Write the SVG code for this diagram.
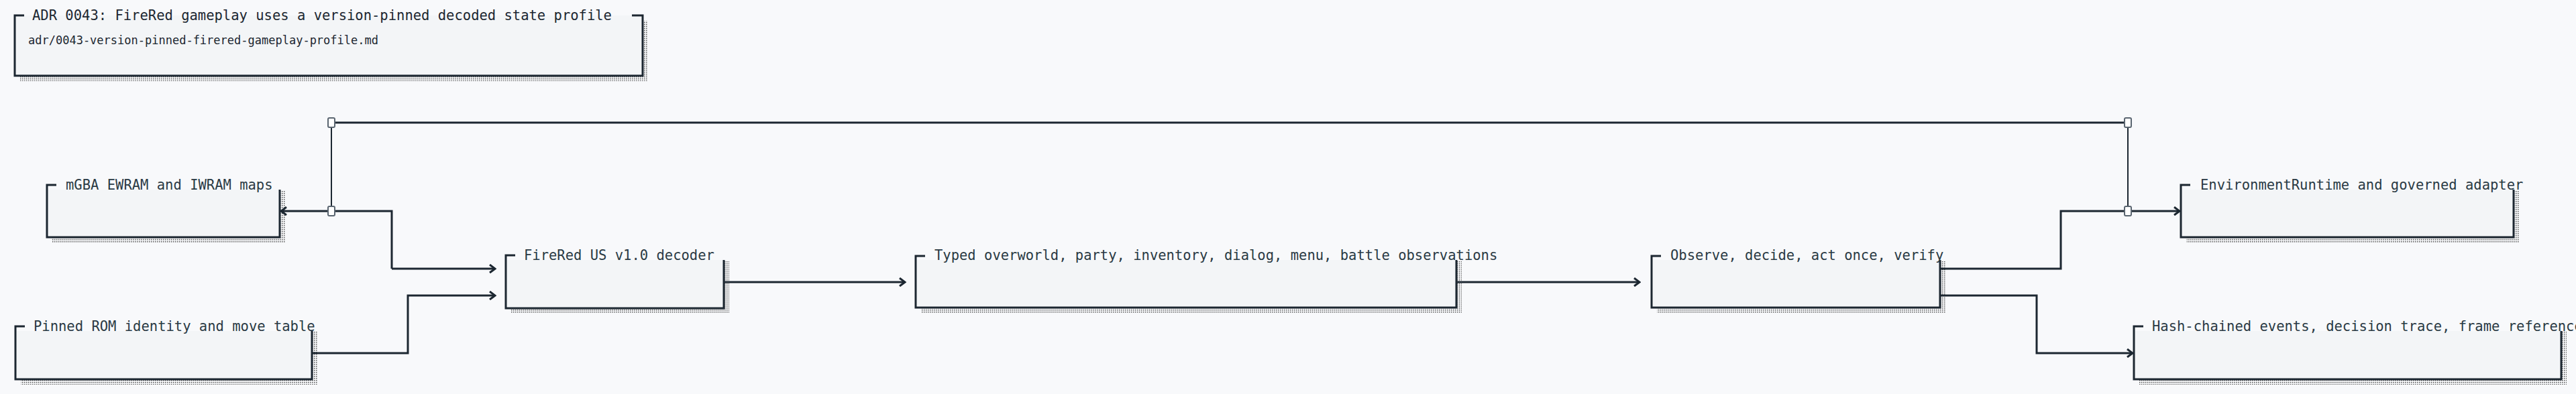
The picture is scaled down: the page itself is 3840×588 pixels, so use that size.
<svg xmlns="http://www.w3.org/2000/svg" width="3840" height="588" viewBox="0 0 3840 588">
<style>
.bg{fill:#f8f9fb}
.box{fill:#f3f5f7}
.edge{fill:none;stroke:#1c2731;stroke-width:3}
.shadow{fill:url(#dots)}
.lbl{font-family:"DejaVu Sans Mono",monospace;font-size:20.5px;fill:#2a3a44}
.sub{font-family:"DejaVu Sans Mono",monospace;font-size:17px;fill:#1c2731}
.ttl{font-family:"DejaVu Sans Mono",monospace;font-size:20.5px;fill:#1c2731}
.wire{fill:none;stroke:#1c2731;stroke-width:3}
.thin{fill:none;stroke:#1c2731;stroke-width:2}
.jn{fill:#ffffff;stroke:#5a6570;stroke-width:2}
</style>
<defs>
<pattern id="dots" width="3" height="3" patternUnits="userSpaceOnUse"><rect width="3" height="3" fill="#f8f9fb"/><rect width="1.5" height="1.5" fill="#555"/></pattern>
<marker id="arr" markerWidth="12" markerHeight="14" refX="10" refY="7" orient="auto" markerUnits="userSpaceOnUse"><path d="M2,1 L10,7 L2,13" fill="none" stroke="#1c2731" stroke-width="3"/></marker>
</defs>
<rect class="bg" width="3840" height="588"/>

<g id="adr">
<rect class="shadow" x="30" y="31" width="936" height="90"/>
<rect class="box" x="22" y="23" width="936" height="90"/>
<path class="edge" d="M36,23 H22 V113 H958 V23 H942"/>
<text class="ttl" x="48" y="30">ADR 0043: FireRed gameplay uses a version-pinned decoded state profile</text>
<text class="sub" x="42" y="66">adr/0043-version-pinned-firered-gameplay-profile.md</text>
</g>

<g id="mgba">
<rect class="shadow" x="78" y="284" width="347" height="78"/>
<rect class="box" x="70" y="283" width="347" height="71"/>
<path class="edge" d="M84,276 H70 V354 H417 V283"/>
<text class="lbl" x="98" y="283">mGBA EWRAM and IWRAM maps</text>
</g>

<g id="rom">
<rect class="shadow" x="31" y="495" width="442" height="79"/>
<rect class="box" x="23" y="494" width="442" height="72"/>
<path class="edge" d="M37,487 H23 V566 H465 V494"/>
<text class="lbl" x="50" y="494">Pinned ROM identity and move table</text>
</g>

<g id="decoder">
<rect class="shadow" x="762" y="389" width="325" height="79"/>
<rect class="box" x="754" y="388" width="325" height="72"/>
<path class="edge" d="M768,381 H754 V460 H1079 V388"/>
<text class="lbl" x="781" y="388">FireRed US v1.0 decoder</text>
</g>

<g id="typed">
<rect class="shadow" x="1373" y="390" width="806" height="77"/>
<rect class="box" x="1365" y="388" width="806" height="71"/>
<path class="edge" d="M1379,382 H1365 V459 H2171 V388"/>
<text class="lbl" x="1393" y="388">Typed overworld, party, inventory, dialog, menu, battle observations</text>
</g>

<g id="loop">
<rect class="shadow" x="2470" y="390" width="430" height="77"/>
<rect class="box" x="2462" y="388" width="430" height="71"/>
<path class="edge" d="M2476,382 H2462 V459 H2892 V388"/>
<text class="lbl" x="2490" y="388">Observe, decide, act once, verify</text>
</g>

<g id="env">
<rect class="shadow" x="3259" y="284" width="496" height="78"/>
<rect class="box" x="3251" y="283" width="496" height="71"/>
<path class="edge" d="M3265,276 H3251 V354 H3747 V283"/>
<text class="lbl" x="3280" y="283">EnvironmentRuntime and governed adapter</text>
</g>

<g id="trace">
<rect class="shadow" x="3189" y="495" width="637" height="79"/>
<rect class="box" x="3181" y="494" width="637" height="72"/>
<path class="edge" d="M3195,487 H3181 V566 H3818 V494"/>
<text class="lbl" x="3208" y="494">Hash-chained events, decision trace, frame references</text>
</g>

<g id="connectors">
<path class="wire" d="M494,183 H3172"/>
<path class="thin" d="M494,183 V315"/>
<path class="thin" d="M3172,183 V315"/>
<path class="wire" d="M584,401 V315 H419" marker-end="url(#arr)"/>
<path class="wire" d="M584,401 H738" marker-end="url(#arr)"/>
<path class="wire" d="M465,527 H608 V441 H738" marker-end="url(#arr)"/>
<path class="wire" d="M1079,421 H1349" marker-end="url(#arr)"/>
<path class="wire" d="M2171,421 H2444" marker-end="url(#arr)"/>
<path class="wire" d="M2892,401 H3072 V315 H3249" marker-end="url(#arr)"/>
<path class="wire" d="M2892,441 H3036 V527 H3179" marker-end="url(#arr)"/>
<rect class="jn" x="489" y="176" width="10" height="14" rx="2"/>
<rect class="jn" x="489" y="308" width="10" height="14" rx="2"/>
<rect class="jn" x="3167" y="176" width="10" height="14" rx="2"/>
<rect class="jn" x="3167" y="308" width="10" height="14" rx="2"/>
</g>
</svg>
